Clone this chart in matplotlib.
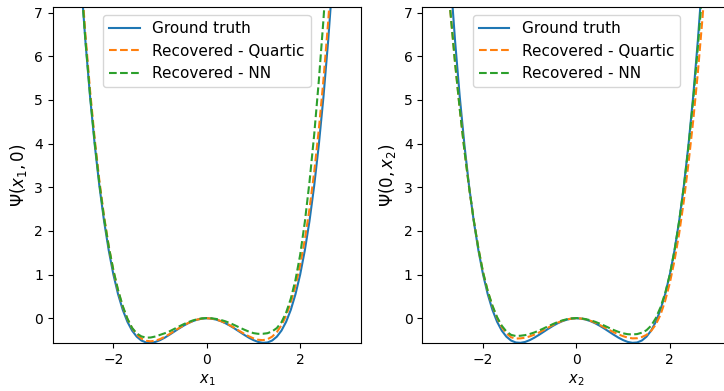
import matplotlib
matplotlib.use("Agg")
import matplotlib.pyplot as plt

# Shared x grid
x_vals = [-2.8, -2.7, -2.6, -2.5, -2.4, -2.3, -2.2, -2.1, -2.0, -1.9, -1.8, -1.7, -1.6, -1.5, -1.4,
          -1.3, -1.2, -1.1, -1.0, -0.9, -0.8, -0.7, -0.6, -0.5, -0.4, -0.3, -0.2, -0.1, 0.0,
          0.1, 0.2, 0.3, 0.4, 0.5, 0.6, 0.7, 0.8, 0.9, 1.0, 1.1, 1.2, 1.3, 1.4,
          1.5, 1.6, 1.7, 1.8, 1.9, 2.0, 2.1, 2.2, 2.3, 2.4, 2.5, 2.6, 2.7, 2.8]

# Ground truth (same in both panels)
ground_truth = [9.486, 7.819, 6.354, 5.078, 3.974, 3.029, 2.226, 1.555, 1.0, 0.551, 0.194, -0.080, -0.282, -0.422, -0.510,
                -0.554, -0.562, -0.542, -0.500, -0.444, -0.378, -0.308, -0.238, -0.172, -0.114, -0.066, -0.030, -0.008, 0.0,
                -0.008, -0.030, -0.066, -0.114, -0.172, -0.238, -0.308, -0.378, -0.444, -0.500, -0.542, -0.562, -0.554, -0.510,
                -0.422, -0.282, -0.080, 0.194, 0.551, 1.0, 1.555, 2.226, 3.029, 3.974, 5.078, 6.354, 7.819, 9.486]

# Left panel: Psi(x1, 0)
quartic_x1 = [9.669, 7.986, 6.508, 5.219, 4.103, 3.146, 2.333, 1.652, 1.088, 0.630, 0.266, -0.015, -0.225, -0.371, -0.465,
              -0.515, -0.528, -0.513, -0.476, -0.424, -0.362, -0.295, -0.228, -0.165, -0.109, -0.063, -0.029, -0.007, 0.0,
              -0.007, -0.028, -0.063, -0.108, -0.163, -0.225, -0.290, -0.354, -0.412, -0.460, -0.492, -0.501, -0.480, -0.421,
              -0.317, -0.159, 0.063, 0.359, 0.740, 1.216, 1.800, 2.504, 3.341, 4.324, 5.469, 6.789, 8.301, 10.02]
nn_x1 = [9.486, 7.835, 6.384, 5.118, 4.024, 3.087, 2.296, 1.641, 1.10, 0.647, 0.28, -0.009, -0.22, -0.347, -0.415,
         -0.444, -0.44, -0.417, -0.38, -0.343, -0.30, -0.246, -0.19, -0.138, -0.09, -0.050, -0.02, -0.002, 0.005,
         0.0, -0.015, -0.038, -0.07, -0.112, -0.16, -0.211, -0.26, -0.305, -0.34, -0.356, -0.355, -0.342, -0.30,
         -0.225, -0.09, 0.131, 0.45, 0.879, 1.45, 2.203, 3.12, 4.196, 5.44, 6.849, 8.46, 10.30, 12.4]

# Right panel: Psi(0, x2)
quartic_x2 = [8.3, 7.019, 5.85, 4.797, 3.85, 3.00, 2.25, 1.598, 1.05, 0.62, 0.28, 0.007, -0.20, -0.346, -0.435,
              -0.465, -0.46, -0.445, -0.415, -0.374, -0.325, -0.269, -0.21, -0.153, -0.10, -0.057, -0.025, -0.006, 0.0,
              -0.006, -0.025, -0.057, -0.10, -0.153, -0.21, -0.266, -0.32, -0.369, -0.41, -0.443, -0.46, -0.457, -0.43,
              -0.381, -0.29, -0.142, 0.08, 0.398, 0.81, 1.32, 1.94, 2.686, 3.55, 4.518, 5.62, 6.881, 8.3]
nn_x2 = [8.3, 7.019, 5.85, 4.797, 3.85, 3.00, 2.25, 1.598, 1.05, 0.624, 0.29, 0.026, -0.17, -0.303, -0.38,
         -0.406, -0.40, -0.386, -0.36, -0.324, -0.28, -0.231, -0.18, -0.131, -0.085, -0.048, -0.02, -0.002, 0.005,
         -0.002, -0.02, -0.046, -0.08, -0.123, -0.17, -0.221, -0.27, -0.312, -0.345, -0.365, -0.37, -0.362, -0.33,
         -0.274, -0.17, 0.003, 0.25, 0.575, 1.0, 1.55, 2.22, 3.009, 3.93, 4.997, 6.2, 7.533, 9.0]

labels = ["Ground truth", "Recovered - Quartic", "Recovered - NN"]
x_ticks = [-2, 0, 2]
y_ticks = [0, 1, 2, 3, 4, 5, 6, 7]

fig = plt.figure(figsize=(7.24, 3.91), dpi=100)
ax1 = fig.add_axes([0.0728, 0.1220, 0.4256, 0.8593])
ax2 = fig.add_axes([0.5834, 0.1220, 0.4256, 0.8593])

panels = [
    (ax1, quartic_x1, nn_x1, r"$x_1$", r"$\Psi(x_1, 0)$"),
    (ax2, quartic_x2, nn_x2, r"$x_2$", r"$\Psi(0, x_2)$"),
]

for ax, q, n, xl, yl in panels:
    ax.plot(x_vals, ground_truth, color="C0", linestyle="-", label=labels[0])
    ax.plot(x_vals, q, color="C1", linestyle="--", label=labels[1])
    ax.plot(x_vals, n, color="C2", linestyle="--", label=labels[2])
    ax.set_xlim(-3.3, 3.3)
    ax.set_ylim(-0.573, 7.12)
    ax.set_xticks(x_ticks)
    ax.set_yticks(y_ticks)
    ax.set_xlabel(xl, fontsize=10.5)
    ax.set_ylabel(yl, fontsize=12)
    ax.legend(loc="upper center", fontsize=11)

fig.savefig("out.png", dpi=100)
